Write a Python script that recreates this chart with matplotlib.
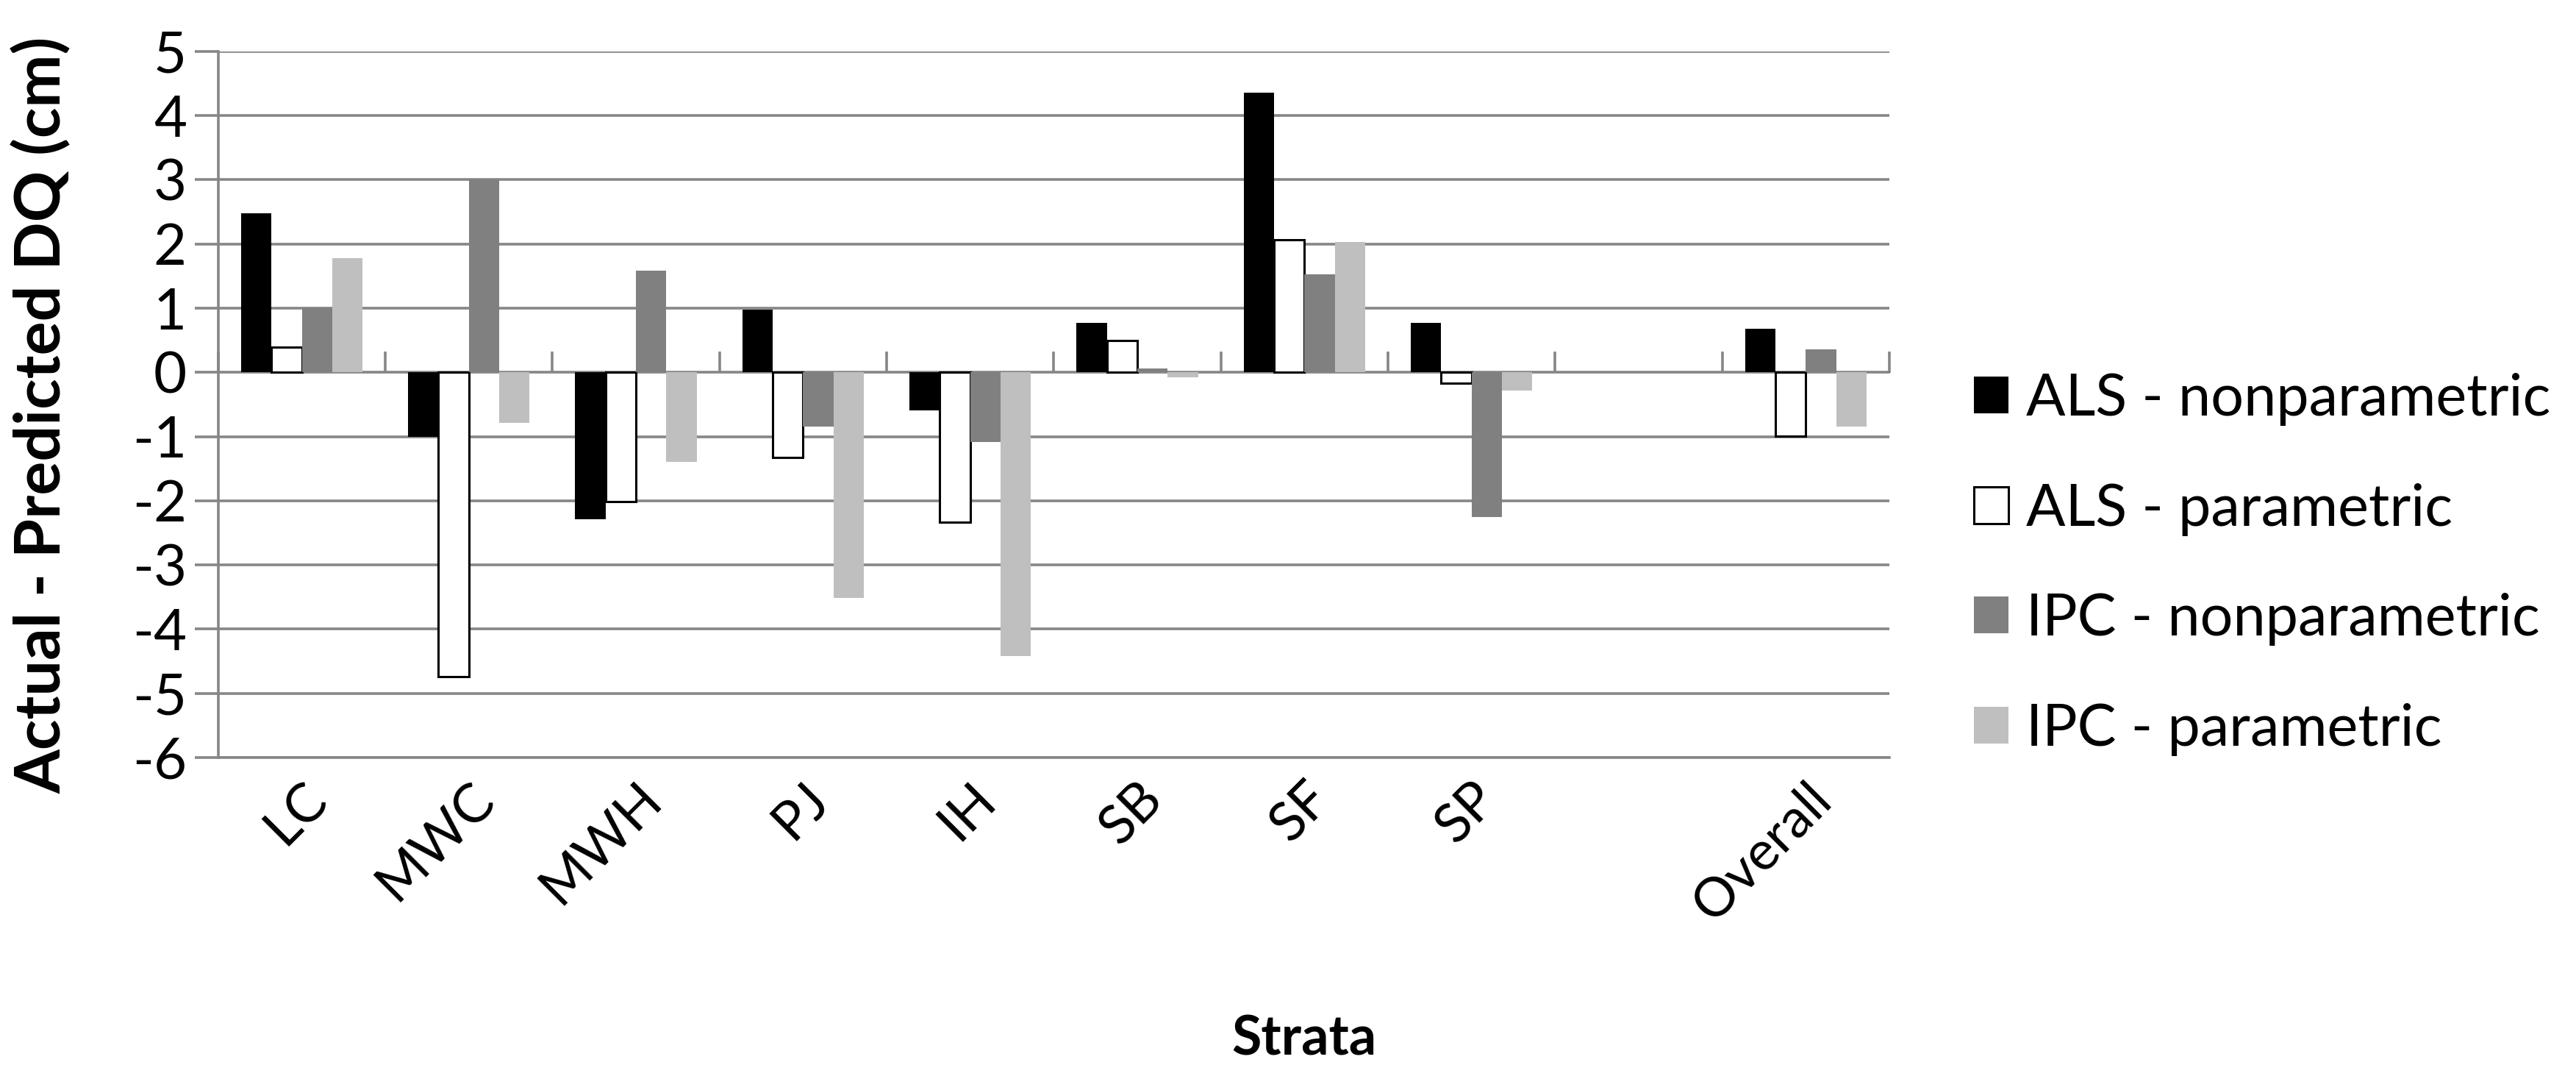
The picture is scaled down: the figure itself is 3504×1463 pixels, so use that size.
import numpy as np
import matplotlib
matplotlib.use("Agg")
import matplotlib.pyplot as plt

plt.rcParams['font.family'] = ['Lato', 'DejaVu Sans']
plt.rcParams['axes.unicode_minus'] = False

strata = ['LC', 'MWC', 'MWH', 'PJ', 'IH', 'SB', 'SF', 'SP', '', 'Overall']
series_names = ['ALS - nonparametric', 'ALS - parametric',
                'IPC - nonparametric', 'IPC - parametric']
als_nonpar = [2.48, -1.00, -2.29, 0.98, -0.59, 0.77, 4.36, 0.77, np.nan, 0.68]
als_par = [0.39, -4.74, -2.01, -1.33, -2.33, 0.50, 2.07, -0.17, np.nan, -0.99]
ipc_nonpar = [1.01, 3.01, 1.58, -0.84, -1.09, 0.06, 1.53, -2.25, np.nan, 0.36]
ipc_par = [1.78, -0.79, -1.39, -3.51, -4.42, -0.08, 2.03, -0.28, np.nan, -0.84]
y_ticks = list(range(-6, 6))

face_colors = ['#000000', '#ffffff', '#808080', '#bfbfbf']
edge_colors = ['#000000', '#000000', '#808080', '#bfbfbf']
grid_col = '#868686'

fig = plt.figure(figsize=(35.05, 14.63), dpi=100)
ax = fig.add_axes([0.0847, 0.296, 0.6485, 0.6562])

x = np.arange(len(strata))
w = 1 / 5.5
for i, (vals, name) in enumerate(zip([als_nonpar, als_par, ipc_nonpar, ipc_par], series_names)):
    ax.bar(x + (i - 1.5) * w, vals, width=w, color=face_colors[i],
           edgecolor=edge_colors[i], linewidth=2.2 if i == 1 else 0,
           label=name, zorder=3)

ax.set_xlim(-0.5, len(strata) - 0.5)
ax.set_ylim(-6, 5)
ax.set_yticks(y_ticks)
ax.yaxis.grid(True, color=grid_col, linewidth=2.6, zorder=0)
ax.tick_params(axis='y', length=23, width=2.6, color=grid_col, labelsize=56, pad=8)

ax.set_xticks(x)
ax.set_xticklabels(strata, rotation=45, ha='right', rotation_mode='anchor', fontsize=53)
ax.tick_params(axis='x', length=0, pad=16)

for s in ['top', 'right']:
    ax.spines[s].set_visible(False)
ax.spines['left'].set_color(grid_col)
ax.spines['left'].set_linewidth(2.6)
ax.spines['bottom'].set_color(grid_col)
ax.spines['bottom'].set_linewidth(2.6)

# category axis drawn at zero with boundary tick marks
zero_pos = 6 / 11
sec = ax.secondary_xaxis(zero_pos)
sec.set_xticks(np.arange(len(strata) + 1) - 0.5)
sec.set_xticklabels([])
sec.tick_params(length=20, width=2.6, color=grid_col, direction='out')
sec.spines['bottom'].set_color(grid_col)
sec.spines['bottom'].set_linewidth(2.6)

ax.set_ylabel('Actual - Predicted DQ (cm)', fontsize=62, fontweight='bold')
ax.yaxis.set_label_coords(-0.0875, 0.485)
fig.text(0.506, 0.034, 'Strata', fontsize=53, fontweight='bold', ha='center', va='center')

fig.legend(loc='center left', bbox_to_anchor=(0.766, 0.4755), frameon=False,
           fontsize=57, handlelength=0.6, handleheight=0.6, handletextpad=0.3,
           labelspacing=0.98, borderpad=0, borderaxespad=0)

fig.savefig('out.png', dpi=100, facecolor='white')
